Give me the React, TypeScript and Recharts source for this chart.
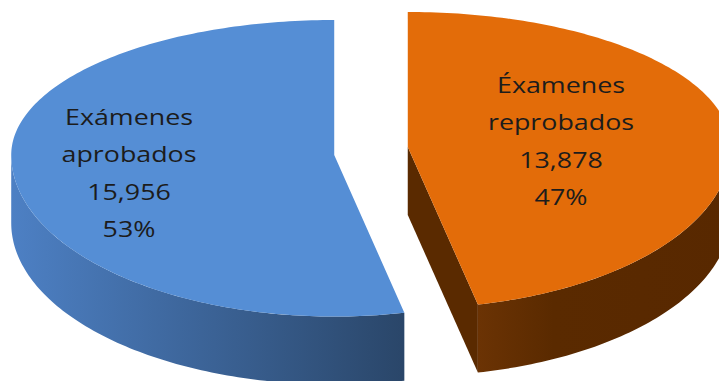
import { PieChart, Pie, Cell } from "recharts"

// data
const categories = ["Éxamenes reprobados", "Exámenes aprobados"]
const values = [13878, 15956]

// styles
const topColors = ["#E36C09", "#558ED5"]
const faceColors = ["#5a2a00", "#2c4a70"]
const wallStops = [
  [
    [0, "#6b3304"],
    [0.3, "#5a2a00"],
    [1, "#582800"],
  ],
  [
    [0, "#4d80c4"],
    [1, "#2a4669"],
  ],
]
const labelOffsets = [
  { dx: 190, dy: -2 },
  { dx: -242, dy: 30 },
]

const RAD = Math.PI / 180
const TILT_TOP = 0.418
const TILT_BOTTOM = 0.5
const DEPTH = 68
const EXPLODE = 37
const LINE_H = 37.4

const total = values.reduce((a, b) => a + b, 0)
const data = categories.map((name, i) => ({ name, value: values[i] }))

const toPath = (pts: number[][]) =>
  pts.map((p, i) => `${i ? "L" : "M"}${p[0].toFixed(2)},${p[1].toFixed(2)}`).join(" ") + " Z"

function Slice3D(props: any) {
  const { cx, cy, outerRadius: R, startAngle, endAngle, midAngle, index } = props
  const ox = EXPLODE * Math.cos(midAngle * RAD)
  const oy = -EXPLODE * Math.sin(midAngle * RAD)

  const pt = (a: number, dz = 0) => {
    const s = Math.sin(a * RAD)
    const ry = R * (s > 0 ? TILT_TOP : TILT_BOTTOM)
    return [cx + ox + R * Math.cos(a * RAD), cy + oy - ry * s + dz]
  }
  const arc = (a1: number, a2: number, dz: number) => {
    const n = Math.max(2, Math.ceil(Math.abs(a2 - a1)))
    const pts: number[][] = []
    for (let i = 0; i <= n; i++) pts.push(pt(a1 + ((a2 - a1) * i) / n, dz))
    return pts
  }

  const lo = Math.min(startAngle, endAngle)
  const hi = Math.max(startAngle, endAngle)
  const apex = [cx + ox, cy + oy]

  // outer wall, only the front half shows
  const walls: number[][][] = []
  for (const [r1, r2] of [
    [-180, 0],
    [-540, -360],
    [180, 360],
  ]) {
    const a1 = Math.max(lo, r1)
    const a2 = Math.min(hi, r2)
    if (a2 > a1) walls.push(arc(a1, a2, 0).concat(arc(a2, a1, DEPTH)))
  }

  // cut faces
  const faces: number[][][] = []
  const quad = (a: number) => {
    const p = pt(a)
    return [apex, p, [p[0], p[1] + DEPTH], [apex[0], apex[1] + DEPTH]]
  }
  if (Math.cos(hi * RAD) < -0.01) faces.push(quad(hi))
  if (Math.cos(lo * RAD) > 0.01) faces.push(quad(lo))

  const xs = walls.flat().map((p) => p[0])
  const x1 = xs.length ? Math.min(...xs) : 0
  const x2 = xs.length ? Math.max(...xs) : 1
  const gid = `wall-${index}`

  return (
    <g>
      <defs>
        <linearGradient id={gid} gradientUnits="userSpaceOnUse" x1={x1} y1={0} x2={x2} y2={0}>
          {wallStops[index].map(([o, c], i) => (
            <stop key={i} offset={o as number} stopColor={c as string} />
          ))}
        </linearGradient>
      </defs>
      {faces.map((f, i) => (
        <path key={`f${i}`} d={toPath(f)} fill={faceColors[index]} />
      ))}
      {walls.map((w, i) => (
        <path key={`w${i}`} d={toPath(w)} fill={`url(#${gid})`} />
      ))}
      <path d={toPath([apex, ...arc(hi, lo, 0)])} fill={props.fill} />
    </g>
  )
}

const renderLabel = (p: any) => {
  const { cx, cy, index } = p
  const off = labelOffsets[index]
  const lines = [
    ...categories[index].split(" "),
    values[index].toLocaleString("en-US"),
    `${Math.round((values[index] / total) * 100)}%`,
  ]
  return (
    <text
      transform={`translate(${cx + off.dx},${cy + off.dy}) scale(1.22,1)`}
      textAnchor="middle"
      fontFamily="'Open Sans', sans-serif"
      fontSize={22}
      fill="#1c1c1c"
    >
      {lines.map((l, i) => (
        <tspan key={i} x={0} y={(i - 1.5) * LINE_H}>
          {l}
        </tspan>
      ))}
    </text>
  )
}

export default function App() {
  return (
    <div style={{ position: "absolute", left: 0, top: 0, background: "#fff" }}>
      <PieChart width={719} height={381} margin={{ top: 0, right: 0, bottom: 0, left: 0 }}>
        <Pie
          data={data}
          dataKey="value"
          nameKey="name"
          cx={371}
          cy={151}
          innerRadius={0}
          outerRadius={323}
          startAngle={90}
          endAngle={-270}
          stroke="none"
          shape={Slice3D}
          label={renderLabel}
          labelLine={false}
          isAnimationActive={false}
        >
          {data.map((d, i) => (
            <Cell key={d.name} fill={topColors[i]} />
          ))}
        </Pie>
      </PieChart>
    </div>
  )
}
